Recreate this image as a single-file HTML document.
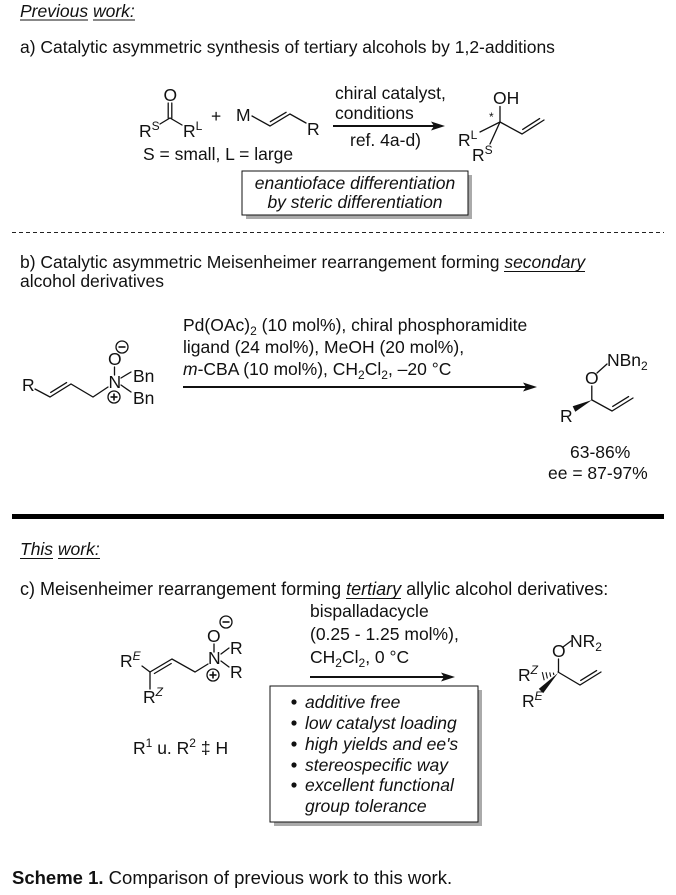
<!DOCTYPE html>
<html><head><meta charset="utf-8"><style>
html,body{margin:0;padding:0;background:#fff;}
svg{display:block;}
text{font-family:"Liberation Sans",Arial,sans-serif;font-size:17.5px;fill:#111;}
.i{font-style:italic;}
.b{stroke:#111;stroke-width:1.3;fill:none;stroke-linecap:round;}
</style></head><body>
<svg width="676" height="895" viewBox="0 0 676 895" xmlns="http://www.w3.org/2000/svg">

<!-- ===== Section a ===== -->
<text x="20" y="17" class="i">Previous work:</text>
<line x1="20" y1="20" x2="88" y2="20" stroke="#111" stroke-width="1"/>
<line x1="93" y1="20" x2="135" y2="20" stroke="#111" stroke-width="1"/>
<text x="20" y="53">a) Catalytic asymmetric synthesis of tertiary alcohols by 1,2-additions</text>

<!-- ketone -->
<text x="163.5" y="101">O</text>
<line class="b" x1="168.2" y1="103" x2="168.2" y2="118"/>
<line class="b" x1="171.8" y1="103" x2="171.8" y2="118"/>
<polyline class="b" points="160,124 170,118 182,125"/>
<text x="139" y="137">R<tspan font-size="12" dy="-7">S</tspan></text>
<text x="183" y="137">R<tspan font-size="12" dy="-7">L</tspan></text>
<text x="211" y="122">+</text>
<text x="236" y="121">M</text>
<polyline class="b" points="252,116 270,126 290,114 306,123"/>
<line class="b" x1="270.3" y1="121.7" x2="286.1" y2="112.3"/>
<text x="307" y="135">R</text>
<text x="143" y="160">S = small, L = large</text>

<!-- conditions a -->
<text x="335" y="99">chiral catalyst,</text>
<text x="335" y="119">conditions</text>
<line x1="333" y1="126" x2="436" y2="126" stroke="#111" stroke-width="2"/>
<polygon points="445,126 431,121.5 434,126 431,130.5" fill="#111"/>
<text x="350" y="146">ref. 4a-d)</text>

<!-- product a -->
<text x="493" y="104">OH</text>
<line class="b" x1="500" y1="106.5" x2="500" y2="122"/>
<text x="489" y="121" style="font-size:12px">*</text>
<line class="b" x1="500" y1="122" x2="480" y2="132"/>
<line class="b" x1="500" y1="122" x2="490" y2="144"/>
<polyline class="b" points="500,122 522,134 544,120"/>
<line class="b" x1="522.7" y1="129.4" x2="539.6" y2="118.6"/>
<text x="458" y="146">R<tspan font-size="12" dy="-7">L</tspan></text>
<text x="472" y="161">R<tspan font-size="12" dy="-7">S</tspan></text>

<!-- box a -->
<rect x="246" y="175" width="226" height="44" fill="#aaa"/>
<rect x="242" y="171" width="226" height="44" fill="#fff" stroke="#111" stroke-width="1"/>
<text x="355" y="189" class="i" text-anchor="middle">enantioface differentiation</text>
<text x="355" y="208" class="i" text-anchor="middle">by steric differentiation</text>

<!-- dashed separator -->
<line x1="12" y1="232.5" x2="664" y2="232.5" stroke="#222" stroke-width="1" stroke-dasharray="4 3"/>

<!-- ===== Section b ===== -->
<text x="20" y="268">b) Catalytic asymmetric Meisenheimer rearrangement forming <tspan class="i">secondary</tspan></text>
<line x1="504" y1="271.5" x2="585" y2="271.5" stroke="#111" stroke-width="1"/>
<text x="20" y="287">alcohol derivatives</text>

<!-- reactant b -->
<text x="22" y="391">R</text>
<polyline class="b" points="35,389 50,397 71,384 93,397 108,387"/>
<line class="b" x1="50.7" y1="392.4" x2="66.6" y2="382.6"/>
<text x="108" y="365">O</text>
<circle cx="122" cy="347" r="6" fill="none" stroke="#111" stroke-width="1.3"/>
<line x1="118.5" y1="347" x2="125.5" y2="347" stroke="#111" stroke-width="1.6"/>
<line class="b" x1="114.5" y1="367" x2="114.5" y2="375"/>
<text x="108.5" y="388">N</text>
<line class="b" x1="121" y1="378" x2="131" y2="372"/>
<line class="b" x1="121" y1="385" x2="131" y2="392"/>
<text x="133" y="382">Bn</text>
<text x="133" y="404">Bn</text>
<circle cx="114" cy="397" r="6" fill="none" stroke="#111" stroke-width="1.3"/>
<line x1="110.5" y1="397" x2="117.5" y2="397" stroke="#111" stroke-width="1.6"/>
<line x1="114" y1="393.5" x2="114" y2="400.5" stroke="#111" stroke-width="1.6"/>

<!-- conditions b -->
<text x="183" y="331">Pd(OAc)<tspan font-size="12" dy="4">2</tspan><tspan dy="-4"> (10 mol%), chiral phosphoramidite</tspan></text>
<text x="183" y="353">ligand (24 mol%), MeOH (20 mol%),</text>
<text x="183" y="375"><tspan class="i">m</tspan>-CBA (10 mol%), CH<tspan font-size="12" dy="4">2</tspan><tspan dy="-4">Cl</tspan><tspan font-size="12" dy="4">2</tspan><tspan dy="-4">, –20 °C</tspan></text>
<line x1="183" y1="387" x2="528" y2="387" stroke="#111" stroke-width="2"/>
<polygon points="537,387 523,382.5 526,387 523,391.5" fill="#111"/>

<!-- product b -->
<text x="585" y="384">O</text>
<line class="b" x1="597" y1="373" x2="607" y2="364"/>
<text x="607" y="366">NBn<tspan font-size="12" dy="4">2</tspan></text>
<line class="b" x1="591.8" y1="386" x2="591.8" y2="400"/>
<polygon points="592,400 575.3,411.7 572.7,406.3" fill="#111"/>
<polyline class="b" points="592,400 612,411 633,398"/>
<line class="b" x1="612.7" y1="406.4" x2="628.6" y2="396.6"/>
<text x="560" y="422">R</text>
<text x="570" y="458">63-86%</text>
<text x="548" y="479">ee = 87-97%</text>

<!-- thick separator -->
<rect x="12" y="514" width="652" height="5" fill="#000"/>

<!-- ===== Section c ===== -->
<text x="20" y="555" class="i">This work:</text>
<line x1="20" y1="558.5" x2="53" y2="558.5" stroke="#111" stroke-width="1"/>
<line x1="58" y1="558.5" x2="100" y2="558.5" stroke="#111" stroke-width="1"/>
<text x="20" y="595" style="font-size:18px">c) Meisenheimer rearrangement forming <tspan class="i">tertiary</tspan> allylic alcohol derivatives:</text>
<line x1="346" y1="598.5" x2="401" y2="598.5" stroke="#111" stroke-width="1"/>

<!-- reactant c -->
<text x="120" y="667">R<tspan font-size="12" dy="-7" class="i">E</tspan></text>
<line class="b" x1="142" y1="666" x2="150" y2="672"/>
<line class="b" x1="150" y1="672" x2="150" y2="689"/>
<text x="143" y="703">R<tspan font-size="12" dy="-7" class="i">Z</tspan></text>
<polyline class="b" points="150,672 172,659 195,672 208,664"/>
<line class="b" x1="154.4" y1="673.5" x2="171.2" y2="663.5"/>
<text x="207" y="642">O</text>
<circle cx="226" cy="622" r="6" fill="none" stroke="#111" stroke-width="1.3"/>
<line x1="222.5" y1="622" x2="229.5" y2="622" stroke="#111" stroke-width="1.6"/>
<line class="b" x1="214" y1="644" x2="214" y2="652"/>
<text x="208" y="664">N</text>
<line class="b" x1="221" y1="654" x2="229" y2="648"/>
<line class="b" x1="221" y1="661" x2="229" y2="667"/>
<text x="230" y="654">R</text>
<text x="230" y="678">R</text>
<circle cx="213" cy="675" r="6" fill="none" stroke="#111" stroke-width="1.3"/>
<line x1="209.5" y1="675" x2="216.5" y2="675" stroke="#111" stroke-width="1.6"/>
<line x1="213" y1="671.5" x2="213" y2="678.5" stroke="#111" stroke-width="1.6"/>

<text x="133" y="754">R<tspan font-size="12" dy="-7">1</tspan><tspan dy="7"> u. R</tspan><tspan font-size="12" dy="-7">2</tspan><tspan dy="7"> ‡ H</tspan></text>

<!-- conditions c -->
<text x="310" y="617">bispalladacycle</text>
<text x="310" y="640">(0.25 - 1.25 mol%),</text>
<text x="310" y="663">CH<tspan font-size="12" dy="4">2</tspan><tspan dy="-4">Cl</tspan><tspan font-size="12" dy="4">2</tspan><tspan dy="-4">, 0 °C</tspan></text>
<line x1="310" y1="677" x2="446" y2="677" stroke="#111" stroke-width="2"/>
<polygon points="455,677 441,672.5 444,677 441,681.5" fill="#111"/>

<!-- box c -->
<rect x="274" y="690" width="208" height="136" fill="#aaa"/>
<rect x="270" y="686" width="208" height="136" fill="#fff" stroke="#111" stroke-width="1"/>
<circle cx="294" cy="702" r="2.6" fill="#111"/>
<text x="305" y="708" class="i">additive free</text>
<circle cx="294" cy="723" r="2.6" fill="#111"/>
<text x="305" y="729" class="i">low catalyst loading</text>
<circle cx="294" cy="744" r="2.6" fill="#111"/>
<text x="305" y="750" class="i">high yields and ee's</text>
<circle cx="294" cy="765" r="2.6" fill="#111"/>
<text x="305" y="771" class="i">stereospecific way</text>
<circle cx="294" cy="785" r="2.6" fill="#111"/>
<text x="305" y="791" class="i">excellent functional</text>
<text x="305" y="812" class="i">group tolerance</text>

<!-- product c -->
<text x="552" y="657">O</text>
<line class="b" x1="563" y1="647" x2="571" y2="641"/>
<text x="570" y="647">NR<tspan font-size="12" dy="4">2</tspan></text>
<line class="b" x1="558.5" y1="659" x2="558.5" y2="672"/>
<g stroke="#111" stroke-width="1.1">
<line x1="553.3" y1="672.6" x2="553.9" y2="675.0"/>
<line x1="549.7" y1="672.4" x2="550.7" y2="676.7"/>
<line x1="546.0" y1="672.3" x2="547.4" y2="678.5"/>
<line x1="542.3" y1="672.1" x2="544.2" y2="680.3"/>
</g>
<polygon points="558,673 543.2,693.1 538.8,688.9" fill="#111"/>
<polyline class="b" points="558,672 580,685 601,672"/>
<line class="b" x1="580.7" y1="680.4" x2="596.6" y2="670.6"/>
<text x="518" y="681">R<tspan font-size="12" dy="-7" class="i">Z</tspan></text>
<text x="522" y="707">R<tspan font-size="12" dy="-7" class="i">E</tspan></text>

<!-- caption -->
<text x="12" y="884" style="font-size:18.5px"><tspan font-weight="bold">Scheme 1.</tspan> Comparison of previous work to this work.</text>
</svg>
</body></html>
